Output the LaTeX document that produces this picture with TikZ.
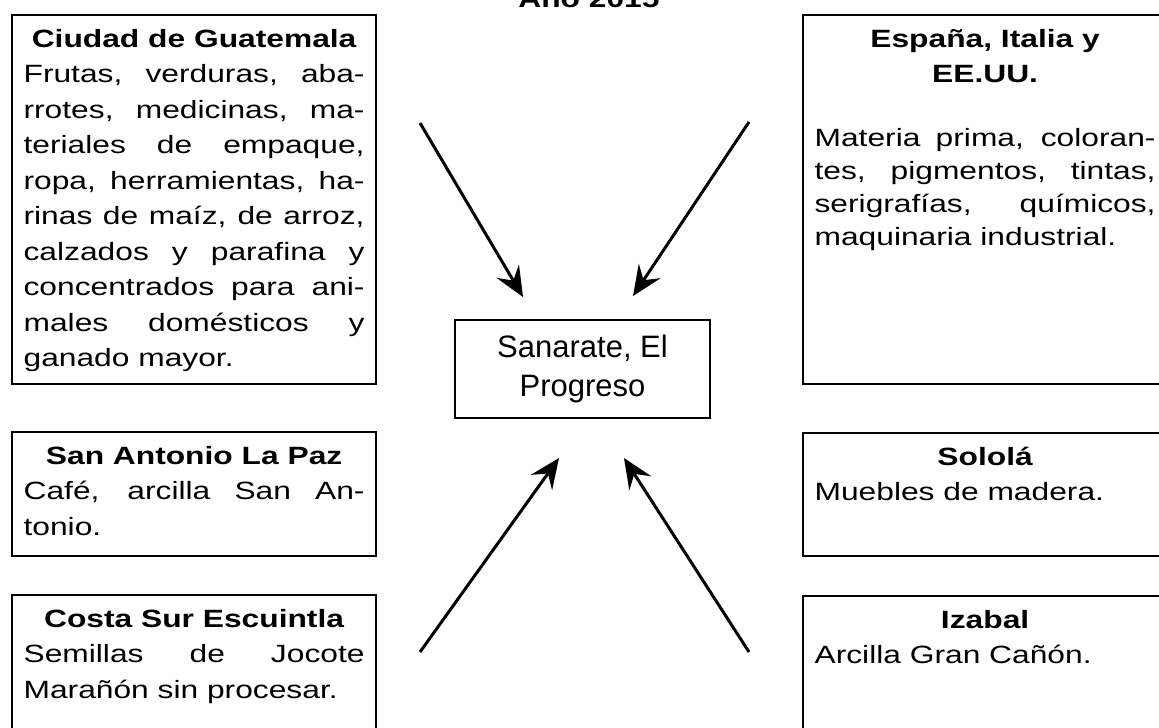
\documentclass[tikz,border=0pt]{standalone}
\usepackage{fontspec}
\usepackage{tikz}
\usetikzlibrary{arrows.meta}
\newfontfamily\boxfont[FakeStretch=1.27]{Liberation Sans}
\newfontfamily\hubfont{Liberation Sans}
\hyphenpenalty=10000
\newcommand{\placehead}[1]{{\centering\bfseries #1\par}}
\tikzset{Place/.style={draw, line width=2.2pt, anchor=north west, text width=341pt, inner xsep=11.5pt, inner ysep=15pt, text height=17pt, align=justify, font=\boxfont\fontsize{25}{35.5}\selectfont}}
\tikzset{Hub/.style={draw, line width=2pt, minimum width=255pt, minimum height=98pt, align=center, font=\hubfont\fontsize{31}{39}\selectfont}}
\tikzset{Flow/.style={draw, line width=3pt, -{Stealth[length=30pt,width=26pt,inset=11pt]}}}

\begin{document}
\begin{tikzpicture}[x=1pt, y=-1pt]
\useasboundingbox (0,0) rectangle (1159,728);
\node[font=\boxfont\bfseries\fontsize{25}{30}\selectfont, anchor=base] (title) at (589,8) {Año 2015};

\node[Place, text depth=322pt] (guatemala) at (11,14) {\placehead{Ciudad de Guatemala}Frutas, verduras, aba-\linebreak rrotes, medicinas, ma-\linebreak teriales de empaque,\linebreak ropa, herramientas, ha-\linebreak rinas de maíz, de arroz,\linebreak calzados y parafina y\linebreak concentrados para ani-\linebreak males domésticos y\linebreak ganado mayor.};
\node[Place, text depth=77pt] (antonio) at (11,431) {\placehead{San Antonio La Paz}Café, arcilla San An-\linebreak tonio.};
\node[Place, text depth=149pt] (costa) at (11,594) {\placehead{Costa Sur Escuintla}Semillas de Jocote\linebreak Marañón sin procesar.};

\node[Place, text depth=322pt] (espana) at (802,14) {\placehead{España, Italia y\\EE.UU.}\vspace{31pt}{\fontsize{25}{33}\selectfont Materia prima, coloran-\linebreak tes, pigmentos, tintas,\linebreak serigrafías, químicos,\linebreak maquinaria industrial.\par}};
\node[Place, text depth=76pt] (solola) at (802,432) {\placehead{Sololá}Muebles de madera.};
\node[Place, text depth=149pt] (izabal) at (802,595) {\placehead{Izabal}Arcilla Gran Cañón.};

\node[Hub] (sanarate) at (582.5,369) {Sanarate, El\\Progreso};

\coordinate (tl) at (420,123);
\coordinate (tlend) at (523,297);
\coordinate (tr) at (749,122);
\coordinate (trend) at (633,296);
\coordinate (bl) at (420,652);
\coordinate (blend) at (559,458);
\coordinate (br) at (749,652);
\coordinate (brend) at (624,458);

\draw[Flow] (tl) -- (tlend);
\draw[Flow] (tr) -- (trend);
\draw[Flow] (bl) -- (blend);
\draw[Flow] (br) -- (brend);
\end{tikzpicture}
\end{document}
